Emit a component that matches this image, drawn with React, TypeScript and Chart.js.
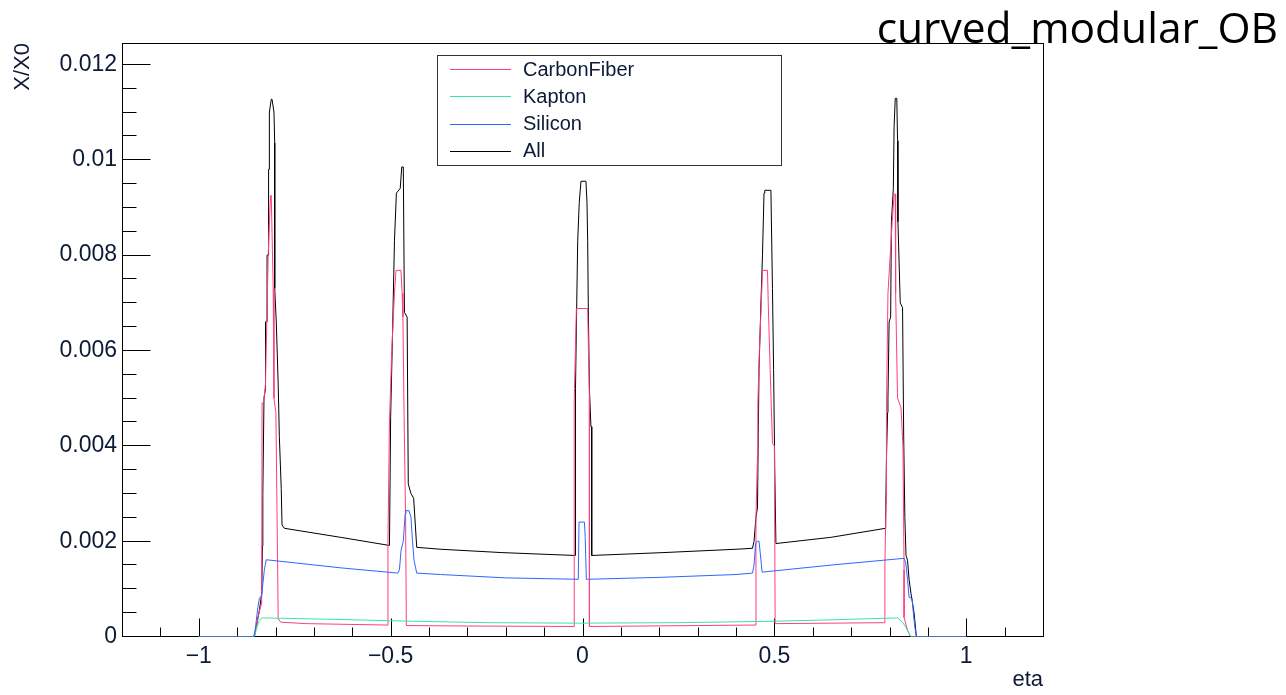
import React, { useEffect, useRef } from 'react';
import { Chart, registerables } from 'chart.js';

Chart.register(...registerables);

// ---------- data (eta, X/X0) ----------
const seriesLabels = ['CarbonFiber', 'Kapton', 'Silicon', 'All'];
const seriesColors = ['#ff3d84', '#35e89c', '#2f66ff', '#000000'];

const carbonFiberEta = [-1, -0.857, -0.85, -0.843, -0.836, -0.835, -0.831, -0.826, -0.822, -0.819, -0.813, -0.811, -0.806, -0.804, -0.799, -0.795, -0.793, -0.786, -0.72, -0.507, -0.507, -0.503, -0.497, -0.49, -0.486, -0.473, -0.47, -0.468, -0.465, -0.461, -0.459, -0.3, -0.0215, -0.0215, -0.016, 0.0135, 0.018, 0.018, 0.3, 0.452, 0.452, 0.456, 0.457, 0.461, 0.466, 0.469, 0.482, 0.484, 0.489, 0.495, 0.5, 0.502, 0.65, 0.788, 0.788, 0.791, 0.792, 0.796, 0.807, 0.812, 0.815, 0.816, 0.821, 0.83, 0.835, 0.838, 0.838, 0.847, 0.855, 1];
const carbonFiberX0 = [0, 0, 0.0002, 0.0005, 0.0007, 0.0049, 0.0049, 0.0053, 0.0069, 0.008, 0.00925, 0.00925, 0.0073, 0.005, 0.0047, 0.0019, 0.00037, 0.0003, 0.00027, 0.00024, 0.002, 0.0045, 0.006, 0.0072, 0.00768, 0.00768, 0.0072, 0.0067, 0.0047, 0.0025, 0.00023, 0.00022, 0.00021, 0.005, 0.00688, 0.00688, 0.005, 0.00021, 0.00023, 0.00024, 0.0025, 0.0038, 0.0049, 0.006, 0.007, 0.00768, 0.00768, 0.007, 0.0056, 0.00405, 0.004, 0.00027, 0.00028, 0.00029, 0.0015, 0.0028, 0.0047, 0.0072, 0.0087, 0.00928, 0.00928, 0.0072, 0.005, 0.0048, 0.004, 0.0014, 0.0004, 0.00013, 0, 0];

const kaptonEta = [-1, -0.855, -0.848, -0.842, -0.834, -0.65, -0.5, -0.25, 0, 0.25, 0.5, 0.65, 0.821, 0.834, 0.842, 0.851, 0.855, 1];
const kaptonX0 = [0, 0, 0.0002, 0.00034, 0.00039, 0.00036, 0.00033, 0.00029, 0.00028, 0.00029, 0.00032, 0.00035, 0.00039, 0.0003, 0.0002, 0.00006, 0, 0];

const siliconEta = [-1, -0.856, -0.852, -0.846, -0.842, -0.836, -0.833, -0.829, -0.824, -0.63, -0.481, -0.477, -0.473, -0.467, -0.462, -0.46, -0.452, -0.447, -0.443, -0.439, -0.432, -0.37, -0.2, -0.011, -0.009, 0.005, 0.007, 0.01, 0.2, 0.4, 0.443, 0.447, 0.451, 0.456, 0.46, 0.465, 0.468, 0.65, 0.838, 0.842, 0.847, 0.851, 0.859, 0.862, 0.866, 0.87, 1];
const siliconX0 = [0, 0, 0.0002, 0.00061, 0.0008, 0.00086, 0.0011, 0.0014, 0.00161, 0.00144, 0.00133, 0.0014, 0.0018, 0.002, 0.00258, 0.00264, 0.00264, 0.0025, 0.002, 0.0016, 0.00133, 0.0013, 0.00123, 0.0012, 0.0024, 0.0024, 0.0021, 0.0012, 0.00124, 0.0013, 0.00133, 0.0015, 0.00195, 0.002, 0.002, 0.0016, 0.00135, 0.0015, 0.00164, 0.00156, 0.0012, 0.00082, 0.0008, 0.0005, 0.0002, 0, 0];

const allEta = [-1, -0.855, -0.848, -0.842, -0.836, -0.834, -0.833, -0.83, -0.826, -0.826, -0.822, -0.822, -0.818, -0.818, -0.816, -0.816, -0.811, -0.809, -0.804, -0.802, -0.802, -0.798, -0.793, -0.79, -0.785, -0.783, -0.777, -0.63, -0.503, -0.5, -0.496, -0.49, -0.485, -0.475, -0.471, -0.467, -0.464, -0.457, -0.454, -0.447, -0.44, -0.432, -0.369, -0.21, -0.0195, -0.0195, -0.017, -0.015, -0.0125, -0.0085, -0.004, 0.009, 0.0117, 0.0135, 0.015, 0.018, 0.022, 0.024, 0.024, 0.21, 0.4, 0.443, 0.447, 0.452, 0.456, 0.458, 0.46, 0.465, 0.469, 0.473, 0.475, 0.491, 0.495, 0.498, 0.501, 0.504, 0.647, 0.79, 0.79, 0.792, 0.795, 0.796, 0.799, 0.803, 0.805, 0.81, 0.812, 0.815, 0.819, 0.821, 0.822, 0.828, 0.834, 0.837, 0.84, 0.843, 0.847, 0.851, 0.856, 0.864, 0.87, 1];
const allX0 = [0, 0, 0.0003, 0.00055, 0.0009, 0.0019, 0.003, 0.005, 0.0052, 0.0066, 0.0066, 0.008, 0.008, 0.0098, 0.0098, 0.011, 0.01127, 0.01127, 0.011, 0.01035, 0.0073, 0.0066, 0.0053, 0.0042, 0.0031, 0.00234, 0.00227, 0.00208, 0.00191, 0.0046, 0.006, 0.0083, 0.0093, 0.0094, 0.00985, 0.00985, 0.0068, 0.0067, 0.0032, 0.003, 0.0029, 0.00187, 0.00183, 0.00176, 0.0017, 0.0044, 0.0052, 0.007, 0.0083, 0.0091, 0.00955, 0.00955, 0.0091, 0.0083, 0.007, 0.0052, 0.0044, 0.0044, 0.0017, 0.00176, 0.00183, 0.00185, 0.002, 0.0025, 0.0027, 0.0042, 0.0056, 0.007, 0.008, 0.0093, 0.00936, 0.00936, 0.0073, 0.0056, 0.0035, 0.00195, 0.00208, 0.00227, 0.0025, 0.0037, 0.0047, 0.005, 0.0066, 0.0067, 0.0087, 0.0094, 0.0107, 0.01129, 0.01129, 0.0104, 0.0087, 0.007, 0.0069, 0.0042, 0.0025, 0.0017, 0.0016, 0.0012, 0.0009, 0.0005, 0, 0];

// ---------- axes ----------
const xMin = -1.2;
const xMax = 1.2;
const yMin = 0;
const yMax = 0.01245;
const xTickValues = [-1.1, -1, -0.9, -0.8, -0.7, -0.6, -0.5, -0.4, -0.3, -0.2, -0.1, 0, 0.1, 0.2, 0.3, 0.4, 0.5, 0.6, 0.7, 0.8, 0.9, 1, 1.1];
const xMajorValues = [-1, -0.5, 0, 0.5, 1];
const xMajorLabels = ['\u22121', '\u22120.5', '0', '0.5', '1'];
const yTickValues = [0, 0.0005, 0.001, 0.0015, 0.002, 0.0025, 0.003, 0.0035, 0.004, 0.0045, 0.005, 0.0055, 0.006, 0.0065, 0.007, 0.0075, 0.008, 0.0085, 0.009, 0.0095, 0.01, 0.0105, 0.011, 0.0115, 0.012];
const yMajorValues = [0, 0.002, 0.004, 0.006, 0.008, 0.01, 0.012];
const yMajorLabels = ['0', '0.002', '0.004', '0.006', '0.008', '0.01', '0.012'];

const FONT = "'Liberation Sans', Arial, Helvetica, sans-serif";
const TEXT = '#0c1a36';

const findMajor = (v: number, vals: number[], eps: number) => vals.findIndex((m) => Math.abs(m - v) < eps);

const frameTicksPlugin = {
  id: 'frameTicks',
  beforeDatasetsDraw(chart: any) {
    const { ctx, chartArea: a, scales } = chart;
    const L = Math.round(a.left) + 0.5;
    const T = Math.round(a.top) + 0.5;
    const R = Math.round(a.right) + 0.5;
    const B = Math.floor(a.bottom) + 0.5;
    ctx.save();
    ctx.strokeStyle = '#000';
    ctx.lineWidth = 1;
    ctx.strokeRect(L, T, R - L, B - T);
    ctx.beginPath();
    for (const v of xTickValues) {
      const px = Math.round(scales.x.getPixelForValue(v)) + 0.5;
      const len = findMajor(v, xMajorValues, 1e-6) >= 0 ? 18 : 9;
      ctx.moveTo(px, B);
      ctx.lineTo(px, B - len);
    }
    for (const v of yTickValues) {
      const py = Math.floor(scales.y.getPixelForValue(v)) + 0.5;
      const len = findMajor(v, yMajorValues, 1e-9) >= 0 ? 28 : 14;
      ctx.moveTo(L, py);
      ctx.lineTo(L + len, py);
    }
    ctx.stroke();
    ctx.restore();
  },
};

const boxLegendPlugin = {
  id: 'boxLegend',
  afterDraw(chart: any) {
    const { ctx, chartArea: a } = chart;
    const left = Math.round(a.left) + 315;
    const top = Math.round(a.top) + 12;
    const w = 344;
    const h = 110;
    ctx.save();
    ctx.fillStyle = '#fff';
    ctx.fillRect(left, top, w, h);
    ctx.strokeStyle = '#333';
    ctx.lineWidth = 1;
    ctx.strokeRect(left + 0.5, top + 0.5, w, h);
    ctx.font = `20px ${FONT}`;
    ctx.textBaseline = 'middle';
    ctx.textAlign = 'left';
    chart.data.datasets.forEach((ds: any, i: number) => {
      const y = top + 14 + i * 27.3;
      ctx.strokeStyle = ds.borderColor;
      ctx.beginPath();
      ctx.moveTo(left + 13, Math.round(y) + 0.5);
      ctx.lineTo(left + 74, Math.round(y) + 0.5);
      ctx.stroke();
      ctx.fillStyle = TEXT;
      ctx.fillText(ds.label, left + 86, y + 1);
    });
    ctx.restore();
  },
};

const zip = (xs: number[], ys: number[]) => xs.map((x, i) => ({ x, y: ys[i] }));

export default function App() {
  const canvasRef = useRef<HTMLCanvasElement | null>(null);

  useEffect(() => {
    const canvas = canvasRef.current;
    if (!canvas) return;
    const seriesData = [
      zip(carbonFiberEta, carbonFiberX0),
      zip(kaptonEta, kaptonX0),
      zip(siliconEta, siliconX0),
      zip(allEta, allX0),
    ];
    const drawOrder = [3, 2, 1, 4];
    const chart = new Chart(canvas, {
      type: 'line',
      data: {
        datasets: seriesLabels.map((label, i) => ({
          label,
          data: seriesData[i],
          borderColor: seriesColors[i],
          backgroundColor: seriesColors[i],
          borderWidth: 1,
          pointRadius: 0,
          tension: 0,
          fill: false,
          order: drawOrder[i],
        })),
      },
      options: {
        responsive: false,
        animation: false,
        events: [],
        layout: { padding: { top: 43, right: 243, left: 0, bottom: 0 } },
        plugins: {
          legend: { display: false },
          tooltip: { enabled: false },
          title: { display: false },
        },
        scales: {
          x: {
            type: 'linear',
            min: xMin,
            max: xMax,
            afterFit: (scale: any) => {
              scale.height = 58.5;
            },
            afterBuildTicks: (scale: any) => {
              scale.ticks = xTickValues.map((value) => ({ value }));
            },
            grid: { display: false, drawTicks: false },
            border: { display: false },
            ticks: {
              autoSkip: false,
              maxRotation: 0,
              minRotation: 0,
              padding: 6,
              color: TEXT,
              font: { family: FONT, size: 23 },
              callback: (value: any) => {
                const k = findMajor(Number(value), xMajorValues, 1e-6);
                return k >= 0 ? xMajorLabels[k] : '';
              },
            },
            title: {
              display: true,
              text: 'eta',
              align: 'end',
              color: TEXT,
              font: { family: FONT, size: 22 },
              padding: { top: 0, bottom: 2 },
            },
          },
          y: {
            type: 'linear',
            min: yMin,
            max: yMax,
            afterFit: (scale: any) => {
              scale.width = 122;
            },
            afterBuildTicks: (scale: any) => {
              scale.ticks = yTickValues.map((value) => ({ value }));
            },
            grid: { display: false, drawTicks: false },
            border: { display: false },
            ticks: {
              autoSkip: false,
              padding: 5,
              color: TEXT,
              font: { family: FONT, size: 23 },
              callback: (value: any) => {
                const k = findMajor(Number(value), yMajorValues, 1e-9);
                return k >= 0 ? yMajorLabels[k] : '';
              },
            },
            title: {
              display: true,
              text: 'X/X0',
              align: 'end',
              color: TEXT,
              font: { family: FONT, size: 22 },
              padding: { top: 10, bottom: 0 },
            },
          },
        },
      },
      plugins: [frameTicksPlugin, boxLegendPlugin],
    } as any);
    return () => {
      chart.destroy();
    };
  }, []);

  return (
    <div style={{ position: 'absolute', left: 0, top: 0, width: 1286, height: 695, background: '#fff' }}>
      <canvas ref={canvasRef} width={1286} height={695} style={{ display: 'block' }} />
      <div
        style={{
          position: 'absolute',
          right: 8,
          top: 6,
          fontFamily: "'Open Sans', sans-serif",
          fontSize: 42.5,
          lineHeight: 1,
          color: '#000',
          whiteSpace: 'nowrap',
        }}
      >
        curved_modular_OB
      </div>
    </div>
  );
}
